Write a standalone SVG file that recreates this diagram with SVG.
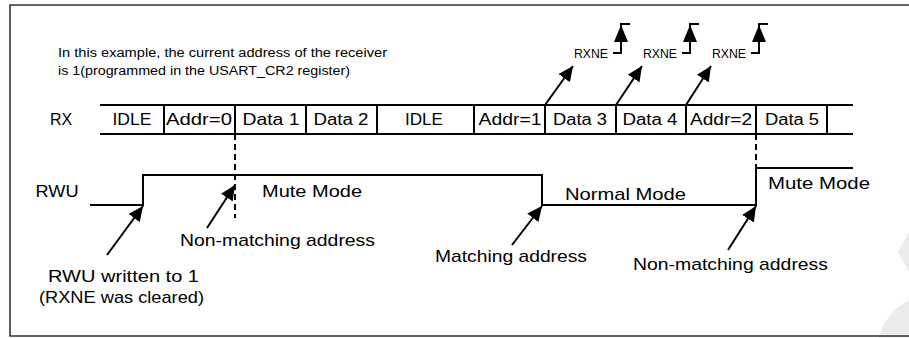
<svg xmlns="http://www.w3.org/2000/svg" width="909" height="338" viewBox="0 0 909 338">
<defs>
<marker id="ah" markerUnits="userSpaceOnUse" markerWidth="16" markerHeight="14" refX="15" refY="7" orient="auto">
<path d="M0,0 L15,7 L0,14 z" fill="#000"/>
</marker>
<style>
text{font-family:"Liberation Sans",Arial,sans-serif;fill:#000;}
.t{font-size:16px;text-anchor:middle;}
.lbl{font-size:17px;}
.sm{font-size:12.5px;}
.rx{font-size:13px;}
.ln{stroke:#000;stroke-width:2;fill:none;}
.dash{stroke:#000;stroke-width:2;stroke-dasharray:6,4;fill:none;}
.arr{stroke:#000;stroke-width:2;fill:none;marker-end:url(#ah);}
</style>
</defs>
<rect width="909" height="338" fill="#fff"/>
<g id="watermark" fill="#ebebeb">
<polygon points="909,232 898,252 909,272"/>
<circle cx="935" cy="352" r="58"/>
</g>
<path id="frame" d="M909,5 H10 V336 H909" stroke="#333" stroke-width="1.6" fill="none"/>
<g id="note">
<text class="sm" x="58" y="57" textLength="329" lengthAdjust="spacingAndGlyphs">In this example, the current address of the receiver</text>
<text class="sm" x="58" y="75" textLength="292" lengthAdjust="spacingAndGlyphs">is 1(programmed in the USART_CR2 register)</text>
</g>
<g id="rx-row">
<text class="t" x="61" y="125">RX</text>
<path class="ln" d="M100,105 H853 M100,134 H853 M164,105 V134 M235,105 V134 M306,105 V134 M377,105 V134 M474,105 V134 M545,105 V134 M616,105 V134 M686,105 V134 M756,105 V134 M827,105 V134"/>
<text class="t" x="132" y="125" textLength="39" lengthAdjust="spacingAndGlyphs">IDLE</text>
<text class="t" x="199" y="125" textLength="66" lengthAdjust="spacingAndGlyphs">Addr=0</text>
<text class="t" x="271" y="125" textLength="57" lengthAdjust="spacingAndGlyphs">Data 1</text>
<text class="t" x="341" y="125" textLength="55" lengthAdjust="spacingAndGlyphs">Data 2</text>
<text class="t" x="424" y="125" textLength="38" lengthAdjust="spacingAndGlyphs">IDLE</text>
<text class="t" x="510" y="125" textLength="63" lengthAdjust="spacingAndGlyphs">Addr=1</text>
<text class="t" x="580" y="125" textLength="54" lengthAdjust="spacingAndGlyphs">Data 3</text>
<text class="t" x="650" y="125" textLength="55" lengthAdjust="spacingAndGlyphs">Data 4</text>
<text class="t" x="721" y="125" textLength="62" lengthAdjust="spacingAndGlyphs">Addr=2</text>
<text class="t" x="792" y="125" textLength="54" lengthAdjust="spacingAndGlyphs">Data 5</text>
</g>
<g id="rwu">
<text class="t" x="57" y="197" textLength="43" lengthAdjust="spacingAndGlyphs">RWU</text>
<path class="ln" d="M90,205 H143 V175 H542 V205 H756 V168 H853"/>
<text class="lbl" x="262" y="197" textLength="100" lengthAdjust="spacingAndGlyphs">Mute Mode</text>
<text class="lbl" x="565" y="200" textLength="121" lengthAdjust="spacingAndGlyphs">Normal Mode</text>
<text class="lbl" x="768" y="189" textLength="102" lengthAdjust="spacingAndGlyphs">Mute Mode</text>
</g>
<g id="rxne1">
<text class="rx" x="574" y="58" textLength="34" lengthAdjust="spacingAndGlyphs">RXNE</text>
<path class="ln" d="M613,53 H621 V24 H630"/>
<polygon points="621,25 614,42 628,42" fill="#000"/>
</g>
<g id="rxne2">
<text class="rx" x="643" y="58" textLength="34" lengthAdjust="spacingAndGlyphs">RXNE</text>
<path class="ln" d="M682,53 H690 V24 H699"/>
<polygon points="690,25 683,42 697,42" fill="#000"/>
</g>
<g id="rxne3">
<text class="rx" x="712" y="58" textLength="34" lengthAdjust="spacingAndGlyphs">RXNE</text>
<path class="ln" d="M751,53 H759 V24 H768"/>
<polygon points="759,25 752,42 766,42" fill="#000"/>
</g>
<g id="labels">
<text class="lbl" x="180" y="246" textLength="195" lengthAdjust="spacingAndGlyphs">Non-matching address</text>
<text class="lbl" x="48" y="282" textLength="151" lengthAdjust="spacingAndGlyphs">RWU written to 1</text>
<text class="lbl" x="39" y="303" textLength="165" lengthAdjust="spacingAndGlyphs">(RXNE was cleared)</text>
<text class="lbl" x="435" y="262" textLength="152" lengthAdjust="spacingAndGlyphs">Matching address</text>
<text class="lbl" x="633" y="270" textLength="195" lengthAdjust="spacingAndGlyphs">Non-matching address</text>
</g>
<g id="connectors">
<path class="dash" d="M235,134 V218"/>
<path class="dash" d="M756,134 V168"/>
<path class="arr" d="M545,105 L573,66"/>
<path class="arr" d="M616,105 L642,66"/>
<path class="arr" d="M686,105 L711,66"/>
<path class="arr" d="M107,255 L143,206"/>
<path class="arr" d="M207,228 L235,185"/>
<path class="arr" d="M512,245 L542,206"/>
<path class="arr" d="M728,250 L756,206"/>
</g>
</svg>
